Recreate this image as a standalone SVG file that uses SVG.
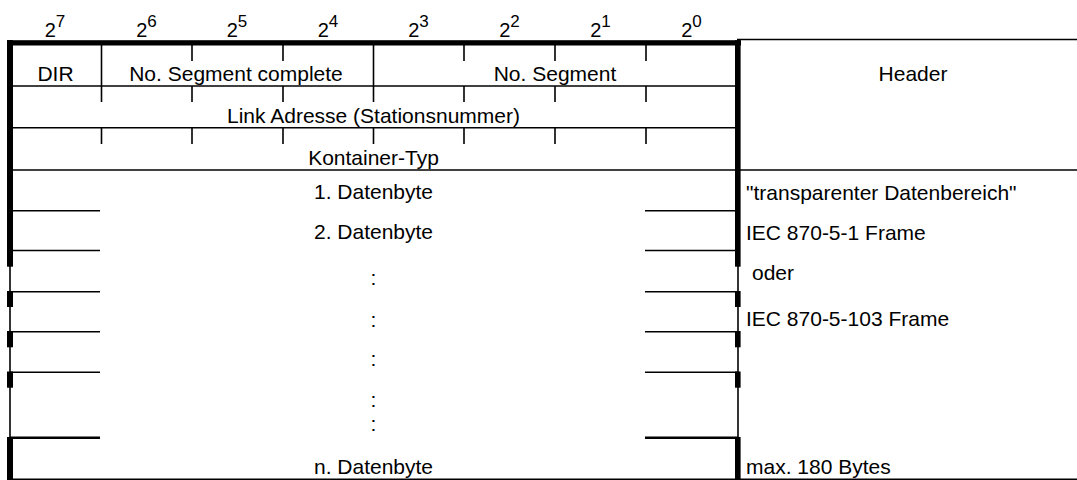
<svg xmlns="http://www.w3.org/2000/svg" width="1077" height="480" viewBox="0 0 1077 480">
<style>
text{font-family:"Liberation Sans",Arial,sans-serif;font-size:21px;fill:#000}
.c{text-anchor:middle}
.bit{font-size:20px;text-anchor:middle}
.sup{font-size:17px}
.thin{stroke:#000;stroke-width:1.6;fill:none}
.med{stroke:#000;stroke-width:2.4;fill:none}
.thk{fill:#000}
</style>
<rect width="1077" height="480" fill="#fff"/>
<g id="bits">
<text class="bit" x="55" y="36.5">2<tspan class="sup" dy="-10">7</tspan></text>
<text class="bit" x="146.5" y="36.5">2<tspan class="sup" dy="-10">6</tspan></text>
<text class="bit" x="237" y="36.5">2<tspan class="sup" dy="-10">5</tspan></text>
<text class="bit" x="328" y="36.5">2<tspan class="sup" dy="-10">4</tspan></text>
<text class="bit" x="418.5" y="36.5">2<tspan class="sup" dy="-10">3</tspan></text>
<text class="bit" x="509.5" y="36.5">2<tspan class="sup" dy="-10">2</tspan></text>
<text class="bit" x="600.5" y="36.5">2<tspan class="sup" dy="-10">1</tspan></text>
<text class="bit" x="691.5" y="36.5">2<tspan class="sup" dy="-10">0</tspan></text>
</g>
<g id="frame">
<rect class="thk" x="7" y="40.2" width="734" height="5.3"/>
<line class="thin" x1="737" y1="39.5" x2="1077" y2="39.5"/>
<line class="thin" x1="10" y1="40" x2="10" y2="480"/>
<line class="thin" x1="738" y1="40" x2="738" y2="480"/>
<rect class="thk" x="7" y="40.2" width="6" height="226.5"/>
<rect class="thk" x="7" y="291" width="6" height="16"/>
<rect class="thk" x="7" y="331" width="6" height="16.3"/>
<rect class="thk" x="7" y="371.5" width="6" height="16.2"/>
<rect class="thk" x="7" y="437" width="6" height="43"/>
<rect class="thk" x="735" y="40.2" width="5.6" height="226.5"/>
<rect class="thk" x="735" y="291" width="5.6" height="16"/>
<rect class="thk" x="735" y="331" width="5.6" height="16.3"/>
<rect class="thk" x="735" y="371.5" width="5.6" height="16.2"/>
<rect class="thk" x="735" y="437" width="5.6" height="43"/>
<line class="thin" x1="10" y1="479.2" x2="1077" y2="479.2"/>
<line class="thin" x1="10" y1="170" x2="1077" y2="170"/>
</g>
<g id="row1">
<line class="thin" x1="10" y1="86" x2="738" y2="86"/>
<line class="thin" x1="101.5" y1="45" x2="101.5" y2="86"/>
<line class="thin" x1="373.5" y1="45" x2="373.5" y2="86"/>
<path class="thin" d="M192 45V61M283 45V61M464 45V61M555 45V61M646 45V61"/>
<text class="c" x="55.5" y="81">DIR</text>
<text class="c" x="236" y="81">No. Segment complete</text>
<text class="c" x="555" y="81">No. Segment</text>
</g>
<g id="row2">
<line class="thin" x1="10" y1="127.7" x2="738" y2="127.7"/>
<path class="thin" d="M101.5 86V102M192 86V102M283 86V102M373.5 86V102M464 86V102M555 86V102M646 86V102"/>
<text class="c" x="373.5" y="123">Link Adresse (Stationsnummer)</text>
</g>
<g id="row3">
<path class="thin" d="M101.5 127.7V144M192 127.7V144M283 127.7V144M373.5 127.7V144M464 127.7V144M555 127.7V144M646 127.7V144"/>
<text class="c" x="373.5" y="165">Kontainer-Typ</text>
</g>
<g id="header">
<text class="c" x="913" y="81">Header</text>
</g>
<g id="data">
<path class="thin" d="M10 210.7H100M645 210.7H738M10 250.5H100M645 250.5H738M10 291.7H100M645 291.7H738M10 331.7H100M645 331.7H738M10 372.3H100M645 372.3H738"/>
<path class="med" d="M10 437.7H100M645 437.7H738"/>
<text class="c" x="373.5" y="199">1. Datenbyte</text>
<text class="c" x="373.5" y="239">2. Datenbyte</text>
<text class="c" x="373.5" y="285">:</text>
<text class="c" x="373.5" y="327">:</text>
<text class="c" x="373.5" y="366">:</text>
<text class="c" x="373.5" y="407">:</text>
<text class="c" x="373.5" y="431">:</text>
<text class="c" x="373.5" y="474">n. Datenbyte</text>
</g>
<g id="notes">
<text x="746" y="200">"transparenter Datenbereich"</text>
<text x="746" y="240">IEC 870-5-1 Frame</text>
<text x="752" y="280">oder</text>
<text x="746" y="326">IEC 870-5-103 Frame</text>
<text x="746" y="474">max. 180 Bytes</text>
</g>
</svg>
